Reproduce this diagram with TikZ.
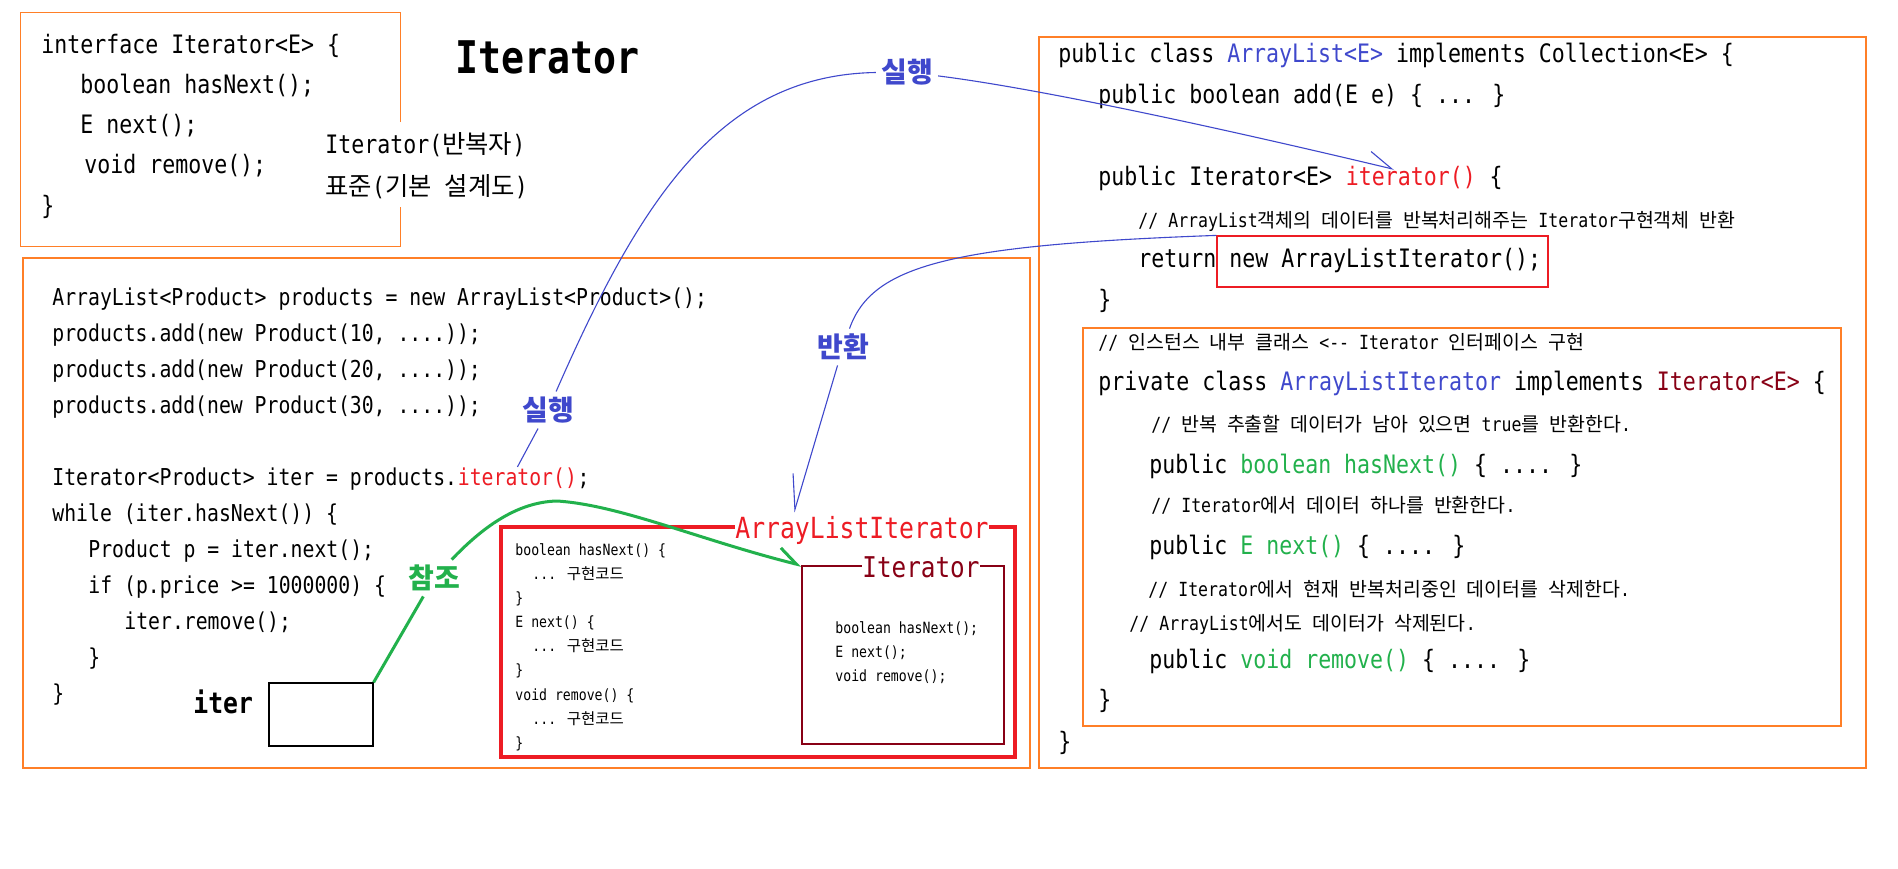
\documentclass[tikz,border=0pt]{standalone}
\usepackage{fontspec}
\usetikzlibrary{fit,arrows.meta,calc}
\newfontfamily\codefont[FakeStretch=0.85]{DejaVu Sans Mono}
\newfontfamily\krfont{Noto Sans CJK KR}
\newcommand{\kor}[1]{{\krfont #1}}
\definecolor{cOrange}{HTML}{FF7F27}
\definecolor{cRed}{HTML}{ED1C24}
\definecolor{cDark}{HTML}{880015}
\definecolor{cGreen}{HTML}{22B14C}
\definecolor{cBlue}{HTML}{3F48CC}
\newcommand\szA{\fontsize{12.69pt}{15pt}\selectfont}
\newcommand\szB{\fontsize{11.63pt}{14pt}\selectfont}
\newcommand\szC{\fontsize{9.73pt}{12pt}\selectfont}
\newcommand\szD{\fontsize{7.75pt}{9pt}\selectfont}
\newcommand\szT{\fontsize{22.5pt}{26pt}\selectfont}
\newcommand\szL{\fontsize{14.55pt}{17pt}\selectfont}
\newcommand\szI{\fontsize{14.3pt}{17pt}\selectfont}
\newcommand\szK{\fontsize{14pt}{17pt}\selectfont}
\tikzset{
  cA/.style={anchor=base west, inner sep=0pt, font=\codefont\szA},
  cB/.style={anchor=base west, inner sep=0pt, font=\codefont\szB},
  cC/.style={anchor=base west, inner sep=0pt, font=\codefont\szC},
  cD/.style={anchor=base west, inner sep=0pt, font=\codefont\szD},
  obox/.style={draw=cOrange, line width=0.7pt},
  area/.style={inner sep=0pt},
  lbl/.style={font=\krfont\bfseries\szK, text=cBlue, inner sep=2.5pt},
  bline/.style={draw=cBlue, line width=0.55pt},
  gline/.style={draw=cGreen, line width=1.5pt},
}
\begin{document}
\begin{tikzpicture}[x=0.5pt,y=-0.5pt]
\fill[white] (0,0) rectangle (1898,868);
\useasboundingbox (0,0) rectangle (1898,868);

% ---------- boxes ----------
\node[area, fit={(21,13)(400,246)}] (box1) {};
\draw[obox] (box1.east |- 0,122) -- (box1.north east) -- (box1.north west)
  -- (box1.south west) -- (box1.south east) -- (box1.east |- 0,207);
\node[area, obox, fit={(23,258)(1030,768)}] (box2) {};
\node[area, obox, fit={(1039,37)(1866,768)}] (box4) {};
\node[area, obox, fit={(1083,328)(1841,726)}] (box5) {};
\node[area, draw=cRed, line width=1.7pt, fit={(501,527)(1015,757)}] (alibox) {};
\node[area, draw=cDark, line width=0.6pt, fit={(802,566)(1004,744)}] (itbox) {};
\node[area, draw=black, line width=0.6pt, fit={(269,683)(373,746)}] (iterbox) {};
\node[area, draw=cRed, line width=0.6pt, fit={(1217,236)(1548,287)}] (retbox) {};

% ---------- interface box ----------
\node[cA] (i1) at (41,53) {interface Iterator<E> \{};
\node[cA] (i2) at (80,93) {boolean hasNext();};
\node[cA] (i3) at (80,133) {E next();};
\node[cA] (i4) at (84,173) {void remove();};
\node[cA] (i5) at (41,214) {\}};
\node[cA] (itlab) at (325,153) {Iterator(\kor{반복자})};
\node[cA] (stdlab) at (325,195) {\kor{표준}(\kor{기본} \kor{설계도})};
\node[anchor=base west, inner sep=0pt, font=\codefont\bfseries\szT] (title) at (455,73) {Iterator};

% ---------- client code ----------
\node[cB] (l1) at (52,305) {ArrayList<Product> products = new ArrayList<Product>();};
\node[cB] (l2) at (52,341) {products.add(new Product(10, ....));};
\node[cB] (l3) at (52,377) {products.add(new Product(20, ....));};
\node[cB] (l4) at (52,413) {products.add(new Product(30, ....));};
\node[cB] (l5a) at (52,485) {Iterator<Product> iter = products.};
\node[cB, text=cRed] (l5b) at (l5a.base east) {iterator()};
\node[cB] (l5c) at (l5b.base east) {;};
\node[cB] (l6) at (52,521) {while (iter.hasNext()) \{};
\node[cB] (l7) at (88,557) {Product p = iter.next();};
\node[cB] (l8) at (88,593) {if (p.price >= 1000000) \{};
\node[cB] (l9) at (124,629) {iter.remove();};
\node[cB] (l10) at (88,665) {\}};
\node[cB] (l11) at (52,701) {\}};
\node[anchor=base west, inner sep=0pt, font=\codefont\bfseries\szL] (iterlab) at (193,713) {iter};

% ---------- ArrayListIterator object ----------
\node[cD] (a1) at (515,555) {boolean hasNext() \{};
\node[cD] (a2) at (532,579) {... \kor{구현코드}};
\node[cD] (a3) at (515,603) {\}};
\node[cD] (a4) at (515,627) {E next() \{};
\node[cD] (a5) at (532,651) {... \kor{구현코드}};
\node[cD] (a6) at (515,675) {\}};
\node[cD] (a7) at (515,700) {void remove() \{};
\node[cD] (a8) at (532,724) {... \kor{구현코드}};
\node[cD] (a9) at (515,748) {\}};
\node[cD] (b1) at (835,633) {boolean hasNext();};
\node[cD] (b2) at (835,657) {E next();};
\node[cD] (b3) at (835,681) {void remove();};
\node[anchor=base west, inner sep=0pt, font=\codefont\szL, text=cRed, fill=white] (altitle) at (735,538) {ArrayListIterator};
\node[anchor=base west, inner sep=0pt, font=\codefont\szI, text=cDark, fill=white] (ittitle) at (862,577) {Iterator};

% ---------- ArrayList class ----------
\node[cA] (r1) at (1058,62) {public class \textcolor{cBlue}{ArrayList<E>} implements Collection<E> \{};
\node[cA] (r2) at (1098,103) {public boolean add(E e) \{ ... \}};
\node[cA] (r4a) at (1098,185) {public Iterator<E>\ \kern0pt};
\node[cA, text=cRed] (r4b) at (r4a.base east) {iterator()};
\node[cA] (r4c) at (r4b.base east) {\ \{};
\node[cC] (r5) at (1138,227) {// ArrayList\kor{객체의} \kor{데이터를} \kor{반복처리해주는} Iterator\kor{구현객체} \kor{반환}};
\node[cA] (r6) at (1138,267) {return new ArrayListIterator();};
\node[cA] (r7) at (1098,308) {\}};

\node[cC] (s1) at (1098,349) {// \kor{인스턴스} \kor{내부} \kor{클래스} <-\kern0pt- Iterator \kor{인터페이스} \kor{구현}};
\node[cA] (s2) at (1098,390) {private class \textcolor{cBlue}{ArrayListIterator} implements \textcolor{cDark}{Iterator<E>} \{};
\node[cC] (s3) at (1151,431) {// \kor{반복} \kor{추출할} \kor{데이터가} \kor{남아} \kor{있으면} true\kor{를} \kor{반환한다}.};
\node[cA] (s4) at (1149,473) {public \textcolor{cGreen}{boolean hasNext()} \{ .... \}};
\node[cC] (s5) at (1151,512) {// Iterator\kor{에서} \kor{데이터} \kor{하나를} \kor{반환한다}.};
\node[cA] (s6) at (1149,554) {public \textcolor{cGreen}{E next()} \{ .... \}};
\node[cC] (s7) at (1148,596) {// Iterator\kor{에서} \kor{현재} \kor{반복처리중인} \kor{데이터를} \kor{삭제한다}.};
\node[cC] (s8) at (1129,630) {// ArrayList\kor{에서도} \kor{데이터가} \kor{삭제된다}.};
\node[cA] (s9) at (1149,668) {public \textcolor{cGreen}{void remove()} \{ .... \}};
\node[cA] (s10) at (1098,708) {\}};
\node[cA] (s11) at (1058,750) {\}};

% ---------- labels ----------
\node[lbl] (sil1) at (548,410) {실행};
\node[lbl] (sil2) at (907,72) {실행};
\node[lbl] (banhwan) at (843,347) {반환};
\node[lbl, text=cGreen] (chamjo) at (434,578) {참조};

% ---------- connectors ----------
\draw[bline, -{Straight Barb[left,length=12pt,width=12pt]}]
  (l5b.north) -- (sil1)
  .. controls (640,200) and (720,75) .. (sil2)
  .. controls (1050,90) and (1250,135) .. ([xshift=-8.5pt,yshift=-2pt]r4b.north);
\draw[bline, -{Straight Barb[right,length=17pt,width=12pt]}]
  (retbox.north west) .. controls (950,245) and (872,265) .. (banhwan)
  -- ([xshift=29.5pt,yshift=1.5pt]altitle.north west);
\draw[gline, -{Straight Barb[left,length=9.5pt,width=12pt]}]
  (iterbox.north east) -- (chamjo)
  .. controls (480,530) and (515,502) .. (557,501)
  .. controls (620,505) and (700,540) .. (itbox.north west);
\end{tikzpicture}
\end{document}
